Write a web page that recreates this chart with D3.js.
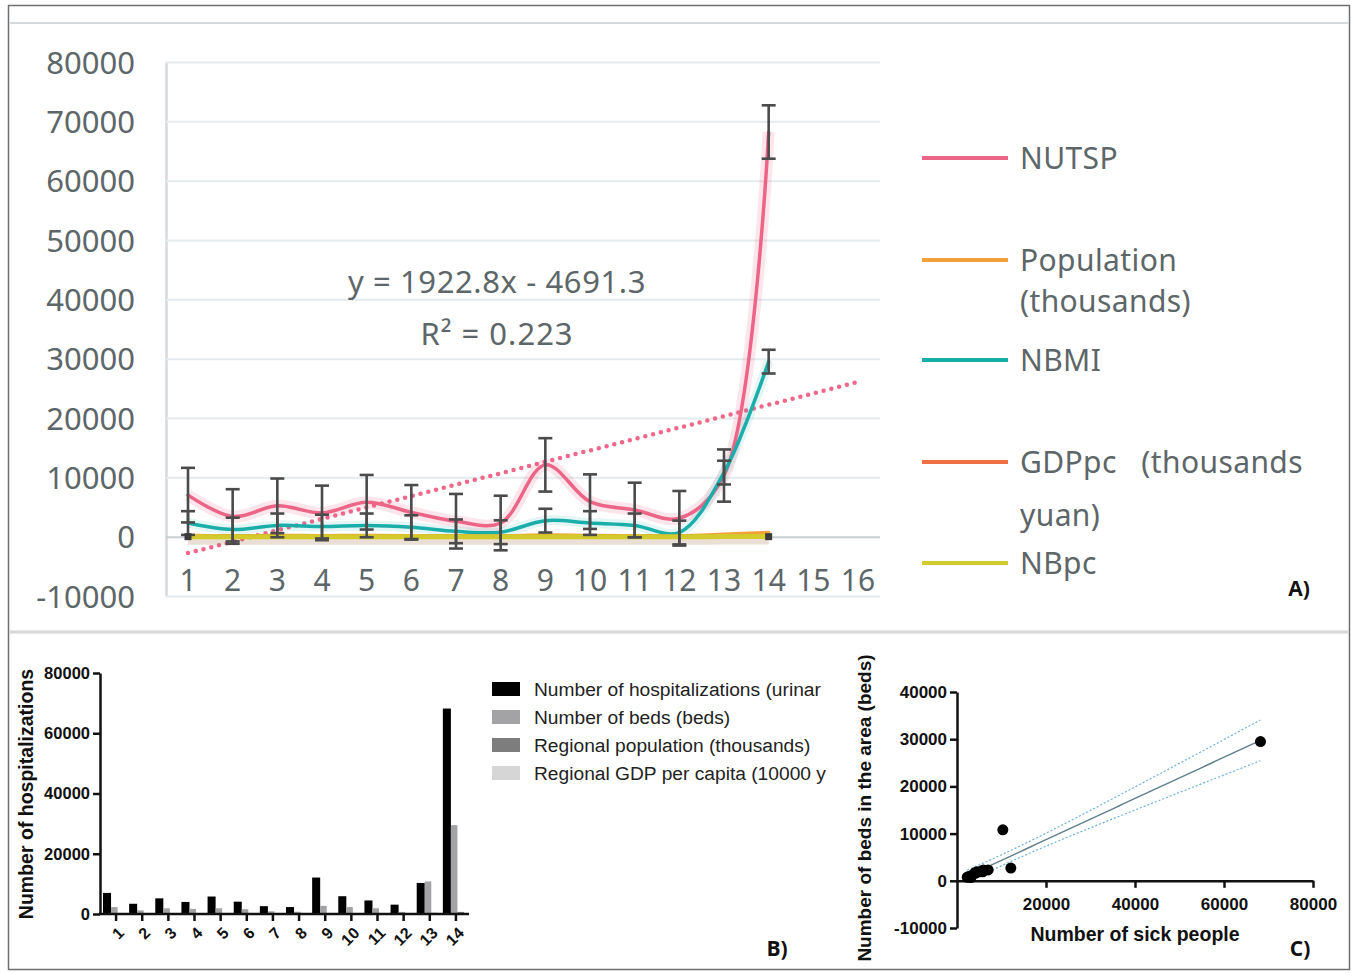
<!DOCTYPE html>
<html>
<head>
<meta charset="utf-8">
<script src="https://d3js.org/d3.v7.min.js"></script>
<style>
  body { margin:0; background:#fff; }
  svg { display:block; }
  .fa { font-family: "Noto Sans", "Open Sans", sans-serif; fill:#5d6668; }
  .fb { font-family: "Liberation Sans", Arial, sans-serif; font-weight:bold; fill:#111; }
  .fl { font-family: "Liberation Sans", Arial, sans-serif; fill:#222; }
</style>
</head>
<body>
<script>
// regions 1..14
var regions = [1,2,3,4,5,6,7,8,9,10,11,12,13,14];
var xTicksA = [1,2,3,4,5,6,7,8,9,10,11,12,13,14,15,16];
var yTicksA = [-10000,0,10000,20000,30000,40000,50000,60000,70000,80000];

// number of urinary-system patients / hospitalizations
var nutsp    = [7000,3400,5200,4000,5800,4100,2600,2300,12100,5900,4500,3100,10300,68200];
var nutspErr = [4600,4600,4600,4600,4600,4600,4600,4600,4500,4600,4600,4600,4400,4500];
// number of beds
var nbmi     = [2300,1200,1900,1700,1900,1600,900,750,2700,2300,1900,700,10800,29500];
var nbmiErr  = [2000,2000,2000,2000,2000,2000,2000,2000,2000,2000,2000,2000,2000,2000];
var population = [180,150,200,170,210,160,140,130,260,190,170,150,400,700];
var gdppc      = [60,55,50,45,70,48,40,38,65,52,50,45,90,120];
var nbpc       = [5,4,5,4,5,4,3,3,6,5,4,3,8,10];

// linear trend of NUTSP printed on the chart
var trendSlope = 1922.8, trendIntercept = -4691.3;
var trendLabel = "y = 1922.8x - 4691.3", r2Label = "R\u00b2 = 0.223";

var legendA = [["NUTSP"], ["Population", "(thousands)"], ["NBMI"], ["GDPpc\u00a0\u00a0\u00a0(thousands", "yuan)"], ["NBpc"]];
var colorsA = ["#ec6486", "#f4a03a", "#19aea9", "#f26f45", "#d3cb2c"];

// legend entries are cut off in the original figure
var legendB = ["Number of hospitalizations (urinar", "Number of beds (beds)", "Regional population (thousands)", "Regional GDP per capita (10000 y"];
var colorsB = ["#000000", "#a3a3a5", "#7d7d7d", "#d6d6d6"];
var yTicksB = [0,20000,40000,60000,80000];
var yTicksC = [-10000,0,10000,20000,30000,40000];
var xTicksC = [20000,40000,60000,80000];

var fmt = d => String(d);

var svg = d3.select("body").append("svg").attr("width", 1353).attr("height", 973);

// frame
svg.append("rect").attr("x", 8.5).attr("y", 5.5).attr("width", 1341).attr("height", 964)
  .attr("fill", "none").attr("stroke", "#6f6f6f").attr("stroke-width", 1.5);
svg.append("line").attr("x1", 10).attr("x2", 1349).attr("y1", 23).attr("y2", 23).attr("stroke", "#d4dadd").attr("stroke-width", 2);
svg.append("line").attr("x1", 10).attr("x2", 1349).attr("y1", 632).attr("y2", 632).attr("stroke", "#d8d8d8").attr("stroke-width", 3);

// ---------------- panel A
var xA = d3.scaleLinear().domain([1,16]).range([188,858]);
var yA = d3.scaleLinear().domain([-10000,80000]).range([596,62]);
var gA = svg.append("g");

var axA = gA.append("g").attr("transform", "translate(166,0)")
  .call(d3.axisLeft(yA).tickValues(yTicksA).tickSize(-714).tickSizeOuter(0).tickPadding(31).tickFormat(fmt));
axA.select(".domain").attr("stroke", "#d3dbde").attr("stroke-width", 2.5);
axA.selectAll(".tick line").attr("stroke", d => d === 0 ? "#c9cfd2" : "#e3ebee").attr("stroke-width", 2);
axA.selectAll(".tick text").attr("class", "fa").style("font-size", "31px").attr("dy", "0.36em");

gA.selectAll("text.xl").data(xTicksA).join("text").attr("class", "fa xl")
  .attr("x", d => xA(d)).attr("y", 580).attr("dy", "0.36em").attr("text-anchor", "middle")
  .style("font-size", "30px").text(d => d);

var lineA = d3.line().x((d, i) => xA(regions[i])).y(d => yA(d)).curve(d3.curveCatmullRom.alpha(0.5));

// trend line
gA.append("path").datum([1,16])
  .attr("d", d3.line().x(d => xA(d)).y(d => yA(trendSlope * d + trendIntercept)))
  .attr("stroke", "#f0678a").attr("stroke-width", 4.5).attr("stroke-dasharray", "0 8")
  .attr("stroke-linecap", "round").attr("fill", "none");

// glow / shadows
gA.append("path").attr("d", lineA(nutsp)).attr("fill", "none").attr("stroke", "rgba(234,95,128,0.16)").attr("stroke-width", 12);
gA.append("path").attr("d", lineA(nbmi)).attr("fill", "none").attr("stroke", "rgba(25,174,169,0.12)").attr("stroke-width", 10);
gA.append("path").attr("d", lineA(nbpc)).attr("transform", "translate(0,5)").attr("fill", "none").attr("stroke", "rgba(160,110,60,0.22)").attr("stroke-width", 6);

var seriesA = [nutsp, population, nbmi, gdppc, nbpc];
var widthsA = [3.5, 3.5, 3.5, 3.5, 5];
seriesA.forEach(function (s, k) {
  gA.append("path").attr("d", lineA(s)).attr("fill", "none")
    .attr("stroke", colorsA[k]).attr("stroke-width", widthsA[k]).attr("stroke-linecap", "round");
});

// error bars
function errBars(vals, errs) {
  var g = gA.append("g").attr("stroke", "#4b4b4b").attr("stroke-width", 2.6);
  vals.forEach(function (v, i) {
    var x = xA(regions[i]);
    g.append("line").attr("x1", x).attr("x2", x).attr("y1", yA(v - errs[i])).attr("y2", yA(v + errs[i]));
    [v - errs[i], v + errs[i]].forEach(function (e) {
      g.append("line").attr("x1", x - 7).attr("x2", x + 7).attr("y1", yA(e)).attr("y2", yA(e));
    });
  });
}
errBars(nutsp, nutspErr);
errBars(nbmi, nbmiErr);

// end markers of the flat series
gA.selectAll("rect.endm").data([regions[0], regions[regions.length - 1]]).join("rect")
  .attr("x", d => xA(d) - 3.5).attr("y", yA(0) - 3.5).attr("width", 7).attr("height", 7).attr("fill", "#3a3a3a");

gA.append("text").attr("class", "fa").attr("x", 497).attr("y", 282).attr("dy", "0.36em")
  .attr("text-anchor", "middle").style("font-size", "31px").style("letter-spacing", "0.6px").text(trendLabel);
gA.append("text").attr("class", "fa").attr("x", 497).attr("y", 334).attr("dy", "0.36em")
  .attr("text-anchor", "middle").style("font-size", "31px").style("letter-spacing", "1px").text(r2Label);

// legend A
var legY = [158, 260, 360, 462, 563];
var legLineGap = [0, 41, 0, 53, 0];
legendA.forEach(function (lab, k) {
  gA.append("line").attr("x1", 922).attr("x2", 1008).attr("y1", legY[k]).attr("y2", legY[k])
    .attr("stroke", colorsA[k]).attr("stroke-width", 4);
  lab.forEach(function (t, j) {
    gA.append("text").attr("class", "fa").attr("x", 1020).attr("y", legY[k] + j * legLineGap[k])
      .attr("dy", "0.36em").style("font-size", "30px").style("letter-spacing", "0.4px").text(t);
  });
});
svg.append("text").attr("class", "fb").attr("x", 1299).attr("y", 588).attr("dy", "0.36em")
  .attr("text-anchor", "middle").style("font-size", "21px").style("font-family", "'Open Sans', sans-serif").text("A)");

// ---------------- panel B
var gB = svg.append("g");
var xB = d3.scaleBand().domain(regions).range([103, 469]).padding(0);
var sub = d3.scaleBand().domain([0,1,2,3]).range([0, xB.bandwidth()]);
var yB = d3.scaleLinear().domain([0,80000]).range([914,673]);
var seriesB = [nutsp, nbmi, population, gdppc];

seriesB.forEach(function (s, k) {
  gB.selectAll("rect.b" + k).data(s).join("rect")
    .attr("x", (d, i) => xB(regions[i]) + sub(k) + (k === 0 ? 0 : 1.5))
    .attr("width", k === 0 ? sub.bandwidth() + 1.5 : sub.bandwidth())
    .attr("y", d => yB(d)).attr("height", d => yB(0) - yB(d)).attr("fill", colorsB[k]);
});

var axB = gB.append("g").attr("transform", "translate(100,0)")
  .call(d3.axisLeft(yB).tickValues(yTicksB).tickSize(7).tickSizeOuter(0).tickFormat(fmt));
axB.select(".domain").attr("stroke", "#111").attr("stroke-width", 2.5);
axB.selectAll(".tick line").attr("stroke", "#111").attr("stroke-width", 2.5);
axB.selectAll(".tick text").attr("class", "fb").style("font-size", "16.5px");

var axBx = gB.append("g").attr("transform", "translate(0,914)")
  .call(d3.axisBottom(xB).tickSize(7).tickSizeOuter(0).tickFormat(""));
axBx.select(".domain").remove();
axBx.selectAll(".tick line").attr("stroke", "#111").attr("stroke-width", 2.5);
gB.append("line").attr("x1", 99).attr("x2", 469).attr("y1", 914).attr("y2", 914).attr("stroke", "#111").attr("stroke-width", 2.5);
gB.selectAll("text.xb").data(regions).join("text").attr("class", "fb xb")
  .attr("transform", d => "translate(" + (xB(d) + xB.bandwidth() / 2 + 5) + ",930) rotate(-45)")
  .attr("text-anchor", "end").attr("dy", "0.36em").style("font-size", "16px").text(d => d);

gB.append("text").attr("class", "fb").attr("transform", "translate(33,794) rotate(-90)")
  .attr("text-anchor", "middle").style("font-size", "19.5px").text("Number of hospitalizations");

svg.append("clipPath").attr("id", "legclip").append("rect").attr("x", 480).attr("y", 670).attr("width", 352).attr("height", 120);
var gLB = gB.append("g").attr("clip-path", "url(#legclip)");
legendB.forEach(function (t, k) {
  var cy = 689 + k * 28;
  gLB.append("rect").attr("x", 492).attr("y", cy - 7).attr("width", 28).attr("height", 14).attr("fill", colorsB[k]);
  gLB.append("text").attr("class", "fl").attr("x", 534).attr("y", cy).attr("dy", "0.36em").style("font-size", "19.2px").text(t);
});
svg.append("text").attr("class", "fb").attr("x", 777).attr("y", 948).attr("dy", "0.36em")
  .attr("text-anchor", "middle").style("font-size", "21px").style("font-family", "'Open Sans', sans-serif").text("B)");

// ---------------- panel C
var gC = svg.append("g");
var xC = d3.scaleLinear().domain([0,80000]).range([957,1313]);
var yC = d3.scaleLinear().domain([-10000,40000]).range([928,692]);

var axCy = gC.append("g").attr("transform", "translate(957,0)")
  .call(d3.axisLeft(yC).tickValues(yTicksC).tickSize(7).tickSizeOuter(0).tickFormat(fmt));
var axCx = gC.append("g").attr("transform", "translate(0," + yC(0) + ")")
  .call(d3.axisBottom(xC).tickValues(xTicksC).tickSize(7).tickSizeOuter(0).tickPadding(10).tickFormat(fmt));
[axCy, axCx].forEach(function (a) {
  a.select(".domain").attr("stroke", "#111").attr("stroke-width", 2.5);
  a.selectAll(".tick line").attr("stroke", "#111").attr("stroke-width", 2.5);
  a.selectAll(".tick text").attr("class", "fb").style("font-size", "17px");
});

// least squares fit with 95% band
var n = nutsp.length;
var mx = d3.mean(nutsp), my = d3.mean(nbmi);
var sxx = d3.sum(nutsp, d => (d - mx) * (d - mx));
var sxy = d3.sum(nutsp, (d, i) => (d - mx) * (nbmi[i] - my));
var slope = sxy / sxx, icpt = my - slope * mx;
var sres = Math.sqrt(d3.sum(nutsp, (d, i) => Math.pow(nbmi[i] - (icpt + slope * d), 2)) / (n - 2));
var tval = 2.179;
var xs = d3.range(d3.min(nutsp), d3.max(nutsp) + 1, (d3.max(nutsp) - d3.min(nutsp)) / 60);
function band(sign) {
  return d3.line().x(d => xC(d)).y(d => yC(icpt + slope * d + sign * tval * sres * Math.sqrt(1 / n + (d - mx) * (d - mx) / sxx)));
}
gC.append("path").attr("d", band(1)(xs)).attr("fill", "none").attr("stroke", "#6fb1da").attr("stroke-width", 1.2).attr("stroke-dasharray", "2 2");
gC.append("path").attr("d", band(-1)(xs)).attr("fill", "none").attr("stroke", "#6fb1da").attr("stroke-width", 1.2).attr("stroke-dasharray", "2 2");
gC.append("path").attr("d", band(0)(xs)).attr("fill", "none").attr("stroke", "#5f7f8c").attr("stroke-width", 1.4);

gC.selectAll("circle").data(nutsp).join("circle")
  .attr("cx", d => xC(d)).attr("cy", (d, i) => yC(nbmi[i])).attr("r", 5.5).attr("fill", "#000");

gC.append("text").attr("class", "fb").attr("x", 1135).attr("y", 934).attr("dy", "0.36em")
  .attr("text-anchor", "middle").style("font-size", "19.5px").text("Number of sick people");
gC.append("text").attr("class", "fb").attr("transform", "translate(871,808) rotate(-90)")
  .attr("text-anchor", "middle").style("font-size", "19px").text("Number of beds in the area (beds)");
svg.append("text").attr("class", "fb").attr("x", 1300).attr("y", 948).attr("dy", "0.36em")
  .attr("text-anchor", "middle").style("font-size", "21px").style("font-family", "'Open Sans', sans-serif").text("C)");
</script>
</body>
</html>
